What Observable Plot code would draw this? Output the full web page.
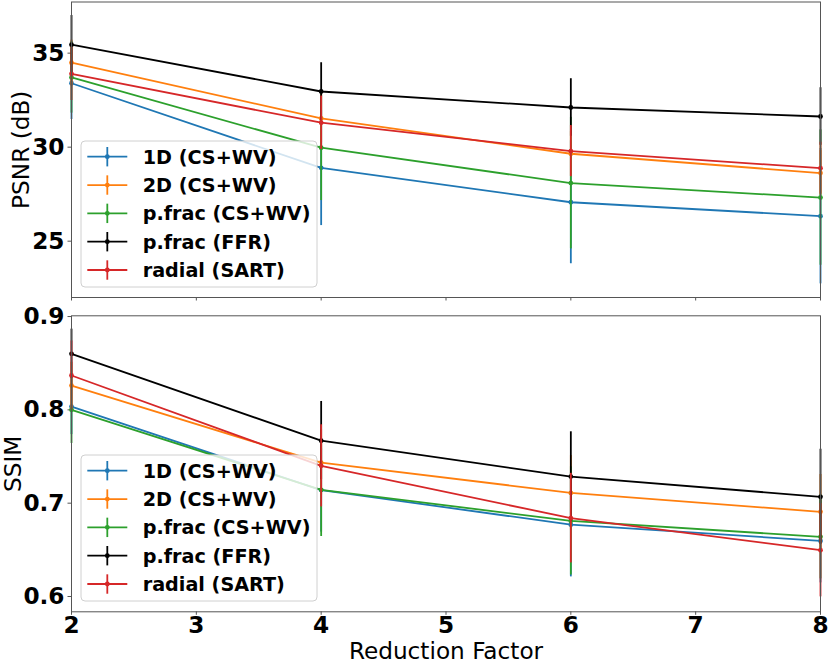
<!DOCTYPE html>
<html>
<head>
<meta charset="utf-8">
<script src="https://cdn.jsdelivr.net/npm/d3@7"></script>
<script src="https://cdn.jsdelivr.net/npm/@observablehq/plot@0.6"></script>
<style>
  html, body { margin: 0; padding: 0; background: white; }
  #wrap { position: relative; width: 830px; height: 664px; }
  #wrap svg { display: block; }
  .legend { position: absolute; }
</style>
</head>
<body>
<div id="wrap"></div>
<script>
// ---- data ----
const factors = [2, 4, 6, 8];
const seriesNames = ["1D (CS+WV)", "2D (CS+WV)", "p.frac (CS+WV)", "p.frac (FFR)", "radial (SART)"];
const seriesColors = ["#1f77b4", "#ff7f0e", "#2ca02c", "#000000", "#d62728"];

// PSNR (dB) means and std
const psnr1D = [33.40, 28.90, 27.07, 26.33];
const psnr2D = [34.49, 31.53, 29.65, 28.62];
const psnrPfracCS = [33.71, 29.97, 28.09, 27.32];
const psnrPfracFFR = [35.45, 32.96, 32.11, 31.63];
const psnrRadial = [33.90, 31.30, 29.79, 28.88];

const psnrErr1D = [1.93, 3.07, 3.27, 3.60];
const psnrErr2D = [1.20, 1.30, 1.20, 1.20];
const psnrErrPfracCS = [1.90, 2.81, 3.50, 3.60];
const psnrErrPfracFFR = [1.55, 1.53, 1.53, 1.53];
const psnrErrRadial = [1.42, 1.42, 1.36, 1.38];

// SSIM means and std
const ssim1D = [0.8035, 0.714, 0.677, 0.6596];
const ssim2D = [0.826, 0.7435, 0.711, 0.6907];
const ssimPfracCS = [0.800, 0.7143, 0.681, 0.6639];
const ssimPfracFFR = [0.860, 0.767, 0.7285, 0.7068];
const ssimRadial = [0.8368, 0.740, 0.684, 0.6496];

const ssimErr1D = [0.030, 0.045, 0.056, 0.045];
const ssimErr2D = [0.025, 0.035, 0.040, 0.040];
const ssimErrPfracCS = [0.036, 0.050, 0.058, 0.045];
const ssimErrPfracFFR = [0.0265, 0.042, 0.048, 0.051];
const ssimErrRadial = [0.037, 0.044, 0.048, 0.050];

const psnrTicks = [25, 30, 35];
const ssimTicks = [0.6, 0.7, 0.8, 0.9];
const xTicks = [2, 3, 4, 5, 6, 7, 8];

// ---- build tables ----
function buildRows(means, errs) {
  return seriesNames.map((name, i) =>
    factors.map((f, j) => ({ series: name, x: f, y: means[i][j], err: errs[i][j] })));
}
const psnrRows = buildRows(
  [psnr1D, psnr2D, psnrPfracCS, psnrPfracFFR, psnrRadial],
  [psnrErr1D, psnrErr2D, psnrErrPfracCS, psnrErrPfracFFR, psnrErrRadial]);
const ssimRows = buildRows(
  [ssim1D, ssim2D, ssimPfracCS, ssimPfracFFR, ssimRadial],
  [ssimErr1D, ssimErr2D, ssimErrPfracCS, ssimErrPfracFFR, ssimErrRadial]);

const FONT = "DejaVu Sans";
const SW = 1.8;
const FS = 23.2;

function seriesMarks(rows) {
  const marks = [];
  rows.forEach(r => {
    marks.push(Plot.ruleX(r, { x: "x", y1: d => d.y - d.err, y2: d => d.y + d.err, stroke: "series", strokeWidth: SW }));
    marks.push(Plot.line(r, { x: "x", y: "y", stroke: "series", strokeWidth: SW }));
    marks.push(Plot.dot(r, { x: "x", y: "y", fill: "series", r: 2.4 }));
  });
  return marks;
}

const commonStyle = { fontFamily: FONT, fontSize: FS + "px", fontWeight: "bold", background: "white", overflow: "visible", color: "black" };

const topPlot = Plot.plot({
  width: 830, height: 300,
  marginTop: 1.5, marginBottom: 3, marginLeft: 71, marginRight: 10,
  style: commonStyle,
  x: { domain: [2, 8] },
  y: { domain: [22.005, 37.72] },
  color: { domain: seriesNames, range: seriesColors },
  marks: [
    Plot.axisX({ ticks: xTicks, tickFormat: () => "", tickSize: 3.5, stroke: "#555", label: null }),
    Plot.axisY({ ticks: psnrTicks, tickSize: 3.5, tickPadding: 3.5, stroke: "#555", label: null, fontSize: FS }),
    ...seriesMarks(psnrRows),
    Plot.frame({ stroke: "#555", strokeWidth: 1 }),
    Plot.text(["PSNR (dB)"], { frameAnchor: "left", dx: -50, rotate: -90, fontWeight: "normal", fontSize: FS, textAnchor: "middle", lineAnchor: "middle", fill: "black" })
  ]
});

const bottomPlot = Plot.plot({
  width: 830, height: 364,
  marginTop: 15.3, marginBottom: 52.7, marginLeft: 71, marginRight: 10,
  style: commonStyle,
  x: { domain: [2, 8] },
  y: { domain: [0.5836, 0.9008] },
  color: { domain: seriesNames, range: seriesColors },
  marks: [
    Plot.axisX({ ticks: xTicks, tickFormat: d3.format("d"), tickSize: 3.5, tickPadding: 1.5, stroke: "#555", label: null, fontSize: FS }),
    Plot.axisY({ ticks: ssimTicks, tickFormat: d3.format(".1f"), tickSize: 3.5, tickPadding: 3.5, stroke: "#555", label: null, fontSize: FS }),
    ...seriesMarks(ssimRows),
    Plot.frame({ stroke: "#555", strokeWidth: 1 }),
    Plot.text(["SSIM"], { frameAnchor: "left", dx: -58, rotate: -90, fontWeight: "normal", fontSize: FS, textAnchor: "middle", lineAnchor: "middle", fill: "black" }),
    Plot.text(["Reduction Factor"], { frameAnchor: "bottom", dy: 39.5, fontWeight: "normal", fontSize: FS, textAnchor: "middle", lineAnchor: "middle", fill: "black" })
  ]
});

const wrap = document.getElementById("wrap");
wrap.appendChild(topPlot);
wrap.appendChild(bottomPlot);

// ---- legends ----
function addLegend(left, topPx) {
  const w = 236, h = 146;
  const svg = d3.select(wrap).append("svg")
    .attr("class", "legend")
    .attr("width", w + 2).attr("height", h + 2)
    .style("left", (left - 1) + "px").style("top", (topPx - 1) + "px");
  svg.append("rect").attr("x", 1).attr("y", 1).attr("width", w).attr("height", h)
    .attr("rx", 4).attr("fill", "white").attr("fill-opacity", 0.8)
    .attr("stroke", "#d0d0d0").attr("stroke-width", 1);
  seriesNames.forEach((name, i) => {
    const cy = 1 + 15.7 + i * 28.33;
    const g = svg.append("g");
    g.append("line").attr("x1", 7.3).attr("x2", 47.3).attr("y1", cy).attr("y2", cy)
      .attr("stroke", seriesColors[i]).attr("stroke-width", SW);
    g.append("line").attr("x1", 27.3).attr("x2", 27.3).attr("y1", cy - 9.7).attr("y2", cy + 9.7)
      .attr("stroke", seriesColors[i]).attr("stroke-width", SW);
    g.append("circle").attr("cx", 27.3).attr("cy", cy).attr("r", 2.4).attr("fill", seriesColors[i]);
    g.append("text").attr("x", 62.7).attr("y", cy).attr("dy", "0.36em")
      .attr("font-family", FONT).attr("font-weight", "bold").attr("font-size", "19.2px")
      .attr("fill", "black").text(name);
  });
}
addLegend(81, 141);
addLegend(81, 455);
</script>
</body>
</html>
